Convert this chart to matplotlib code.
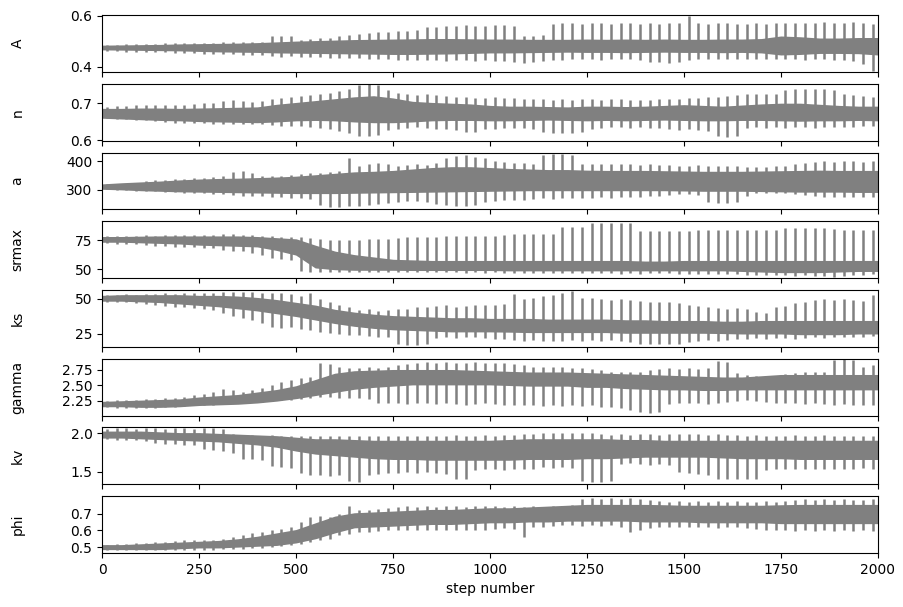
import numpy as np
import matplotlib
matplotlib.use("Agg")
import matplotlib.pyplot as plt

labels = ["A", "n", "a", "srmax", "ks", "gamma", "kv", "phi"]

# band of the walkers, read every 50 steps (0..2000)
knot_steps = np.arange(0, 2001, 50)
# spikes of the stray walkers, read every 25 steps
spike_steps = np.arange(12, 2000, 25)

A_lo = [0.470, 0.469, 0.468, 0.467, 0.466, 0.464, 0.462, 0.461, 0.460, 0.458,
        0.457, 0.456, 0.455, 0.454, 0.453, 0.452, 0.452, 0.453, 0.454, 0.456,
        0.458, 0.458, 0.459, 0.460, 0.461, 0.460, 0.460, 0.459, 0.460, 0.461,
        0.460, 0.460, 0.459, 0.460, 0.458, 0.450, 0.452, 0.456, 0.456, 0.455, 0.450]
A_hi = [0.482, 0.483, 0.484, 0.485, 0.487, 0.488, 0.489, 0.490, 0.492, 0.495,
        0.498, 0.500, 0.502, 0.504, 0.505, 0.506, 0.507, 0.508, 0.508, 0.507,
        0.506, 0.506, 0.505, 0.505, 0.505, 0.506, 0.505, 0.506, 0.505, 0.506,
        0.505, 0.505, 0.506, 0.506, 0.508, 0.518, 0.515, 0.510, 0.510, 0.512, 0.512]
A_top = [0.486, 0.487, 0.488, 0.489, 0.490, 0.491, 0.492, 0.492, 0.493, 0.494,
         0.494, 0.495, 0.496, 0.497, 0.498, 0.497, 0.498, 0.520, 0.522, 0.521,
         0.505, 0.508, 0.512, 0.515, 0.520, 0.525, 0.530, 0.532, 0.535, 0.538,
         0.540, 0.541, 0.545, 0.555, 0.558, 0.560, 0.562, 0.563, 0.560, 0.562,
         0.564, 0.563, 0.560, 0.522, 0.520, 0.525, 0.570, 0.571, 0.572, 0.570,
         0.571, 0.572, 0.570, 0.571, 0.572, 0.570, 0.571, 0.569, 0.572, 0.571,
         0.600, 0.571, 0.570, 0.572, 0.571, 0.569, 0.570, 0.571, 0.570, 0.572,
         0.571, 0.573, 0.574, 0.572, 0.575, 0.574, 0.573, 0.575, 0.572, 0.570]
A_bot = [0.462, 0.461, 0.460, 0.459, 0.458, 0.458, 0.457, 0.456, 0.455, 0.455,
         0.452, 0.451, 0.450, 0.449, 0.447, 0.446, 0.445, 0.442, 0.440, 0.441,
         0.440, 0.438, 0.437, 0.436, 0.435, 0.434, 0.433, 0.432, 0.431, 0.430,
         0.428, 0.427, 0.426, 0.428, 0.426, 0.425, 0.427, 0.426, 0.425, 0.427,
         0.424, 0.422, 0.418, 0.416, 0.418, 0.424, 0.426, 0.428, 0.430, 0.429,
         0.430, 0.428, 0.431, 0.429, 0.430, 0.428, 0.420, 0.418, 0.417, 0.418,
         0.428, 0.431, 0.429, 0.430, 0.432, 0.431, 0.430, 0.429, 0.431, 0.430,
         0.432, 0.430, 0.428, 0.429, 0.430, 0.428, 0.427, 0.425, 0.410, 0.385]

n_lo = [0.662, 0.660, 0.658, 0.656, 0.655, 0.653, 0.652, 0.651, 0.650, 0.652,
        0.655, 0.656, 0.655, 0.652, 0.650, 0.650, 0.652, 0.655, 0.656, 0.656,
        0.655, 0.655, 0.656, 0.657, 0.656, 0.655, 0.656, 0.655, 0.656, 0.657,
        0.656, 0.655, 0.655, 0.656, 0.656, 0.655, 0.654, 0.655, 0.655, 0.656, 0.655]
n_hi = [0.684, 0.684, 0.685, 0.685, 0.684, 0.685, 0.686, 0.687, 0.688, 0.695,
        0.700, 0.705, 0.710, 0.715, 0.718, 0.712, 0.703, 0.700, 0.698, 0.696,
        0.692, 0.690, 0.690, 0.689, 0.688, 0.690, 0.690, 0.689, 0.690, 0.692,
        0.694, 0.692, 0.690, 0.693, 0.696, 0.698, 0.698, 0.695, 0.692, 0.690, 0.690]
n_top = [0.690, 0.692, 0.693, 0.694, 0.695, 0.694, 0.695, 0.696, 0.695, 0.697,
         0.700, 0.702, 0.705, 0.708, 0.705, 0.703, 0.706, 0.712, 0.715, 0.718,
         0.720, 0.722, 0.725, 0.728, 0.732, 0.738, 0.748, 0.752, 0.750, 0.735,
         0.728, 0.725, 0.722, 0.724, 0.722, 0.720, 0.718, 0.716, 0.714, 0.715,
         0.716, 0.715, 0.714, 0.712, 0.711, 0.712, 0.710, 0.711, 0.710, 0.712,
         0.711, 0.710, 0.712, 0.711, 0.710, 0.709, 0.710, 0.711, 0.712, 0.712,
         0.713, 0.715, 0.716, 0.718, 0.720, 0.722, 0.724, 0.725, 0.726, 0.724,
         0.735, 0.737, 0.738, 0.738, 0.737, 0.736, 0.725, 0.722, 0.720, 0.718]
n_bot = [0.660, 0.658, 0.657, 0.655, 0.654, 0.652, 0.650, 0.648, 0.648, 0.647,
         0.646, 0.645, 0.644, 0.645, 0.644, 0.645, 0.643, 0.642, 0.640, 0.639,
         0.638, 0.636, 0.634, 0.630, 0.625, 0.620, 0.613, 0.612, 0.615, 0.628,
         0.632, 0.634, 0.635, 0.633, 0.632, 0.630, 0.628, 0.624, 0.622, 0.630,
         0.632, 0.634, 0.633, 0.634, 0.630, 0.622, 0.620, 0.621, 0.620, 0.623,
         0.630, 0.634, 0.636, 0.635, 0.634, 0.636, 0.634, 0.633, 0.630, 0.628,
         0.630, 0.628, 0.625, 0.612, 0.610, 0.612, 0.633, 0.635, 0.634, 0.635,
         0.634, 0.635, 0.636, 0.634, 0.635, 0.636, 0.635, 0.637, 0.638, 0.640]

a_lo = [305, 303, 300, 298, 296, 295, 294, 293, 292, 291,
        290, 290, 290, 291, 292, 293, 294, 295, 296, 297,
        298, 299, 300, 300, 300, 300, 300, 300, 300, 300,
        299, 298, 298, 298, 297, 296, 295, 295, 295, 294, 294]
a_hi = [318, 322, 325, 328, 332, 335, 337, 338, 340, 342,
        345, 350, 355, 360, 362, 365, 370, 375, 378, 378,
        375, 372, 370, 368, 368, 366, 365, 365, 365, 364,
        363, 362, 362, 362, 363, 364, 365, 366, 365, 365, 365]
a_top = [320, 321, 322, 325, 330, 333, 335, 337, 338, 340,
         342, 345, 350, 362, 365, 360, 350, 348, 350, 352,
         355, 358, 360, 362, 365, 410, 385, 392, 395, 390,
         385, 388, 390, 386, 395, 412, 418, 420, 415, 410,
         400, 398, 395, 394, 392, 422, 425, 424, 420, 392,
         390, 391, 389, 390, 392, 388, 390, 387, 386, 385,
         385, 386, 384, 385, 383, 382, 380, 381, 380, 382,
         385, 392, 395, 398, 400, 398, 399, 400, 396, 400]
a_bot = [302, 300, 298, 297, 296, 295, 293, 292, 290, 290,
         288, 286, 284, 282, 280, 278, 277, 276, 275, 272,
         270, 268, 248, 242, 240, 243, 245, 246, 250, 255,
         258, 260, 262, 258, 250, 246, 244, 245, 247, 258,
         262, 265, 266, 265, 268, 270, 268, 270, 272, 271,
         272, 274, 273, 275, 274, 276, 278, 280, 282, 284,
         285, 283, 258, 255, 256, 257, 280, 288, 290, 289,
         290, 286, 282, 278, 276, 275, 274, 276, 275, 276]

srmax_lo = [74.0, 74.0, 73.5, 73.0, 72.5, 71.5, 71.0, 70.5, 70.0, 67.0,
            63.0, 52.0, 50.5, 50.0, 50.0, 50.0, 49.8, 49.8, 49.8, 49.8,
            49.8, 49.5, 49.5, 49.5, 49.5, 49.5, 49.5, 49.5, 49.5, 49.5,
            49.5, 49.5, 49.5, 49.0, 48.5, 48.0, 48.0, 48.0, 48.5, 49.0, 49.0]
srmax_hi = [77.5, 77.5, 77.8, 78.0, 78.0, 78.0, 78.0, 78.0, 77.5, 76.5,
            75.5, 70.0, 65.0, 62.0, 60.0, 58.0, 57.5, 57.0, 57.0, 57.0,
            57.0, 57.0, 57.0, 57.0, 57.0, 57.0, 57.0, 57.0, 56.5, 56.5,
            57.0, 57.0, 57.0, 57.0, 57.0, 57.0, 57.0, 57.0, 57.0, 57.0, 57.0]
srmax_top = [78.5, 78.8, 79.0, 79.0, 79.2, 79.0, 79.2, 79.5, 79.3, 79.4,
             79.5, 79.8, 80.0, 80.0, 79.8, 79.5, 79.0, 78.5, 78.0, 77.5,
             77.5, 77.0, 76.0, 75.5, 75.0, 75.5, 75.5, 75.8, 76.0, 76.5,
             77.0, 77.5, 77.8, 78.0, 78.2, 78.5, 78.5, 78.6, 78.8, 79.0,
             79.0, 79.5, 80.0, 80.0, 80.0, 80.0, 80.0, 86.0, 86.4, 86.2,
             89.5, 89.8, 90.0, 89.6, 89.8, 82.5, 82.7, 82.8, 83.0, 83.2,
             83.0, 83.5, 83.8, 84.0, 83.5, 83.8, 84.0, 83.6, 84.0, 83.8,
             85.5, 85.8, 85.6, 85.5, 85.8, 84.5, 84.0, 84.2, 83.8, 84.0]
srmax_bot = [72.5, 72.0, 72.0, 71.5, 71.0, 70.5, 70.0, 69.5, 69.0, 69.5,
             68.5, 68.0, 67.0, 66.0, 65.5, 64.0, 62.0, 60.0, 59.0, 58.5,
             48.5, 48.0, 47.8, 47.5, 47.5, 47.8, 48.0, 47.5, 47.8, 47.5,
             47.5, 47.8, 47.5, 47.6, 47.5, 47.8, 47.5, 47.2, 47.5, 47.3,
             47.5, 47.3, 47.0, 47.2, 47.0, 47.3, 47.0, 47.2, 47.0, 46.8,
             47.0, 46.8, 47.0, 46.5, 46.8, 46.5, 46.8, 47.0, 46.8, 46.5,
             46.5, 46.0, 46.2, 46.5, 46.0, 45.8, 45.5, 45.5, 45.0, 45.2,
             45.0, 44.8, 45.0, 44.5, 44.0, 43.8, 44.5, 45.0, 45.5, 46.0]

ks_lo = [49.0, 49.0, 48.5, 48.0, 47.0, 46.0, 45.0, 43.5, 42.0, 40.0,
         38.0, 35.5, 33.0, 31.0, 29.5, 28.5, 28.0, 27.5, 27.0, 27.0,
         27.0, 26.8, 26.5, 26.5, 26.5, 26.5, 26.5, 26.0, 26.0, 26.0,
         26.0, 26.0, 25.8, 25.5, 25.5, 25.5, 25.0, 25.0, 25.0, 25.5, 25.5]
ks_hi = [52.0, 52.5, 52.5, 52.5, 52.5, 52.0, 52.0, 51.5, 50.5, 49.0,
         47.0, 45.0, 42.0, 40.0, 38.5, 37.5, 37.0, 36.5, 36.0, 36.0,
         35.5, 35.5, 35.5, 35.0, 35.0, 35.0, 35.0, 34.5, 34.5, 34.0,
         34.0, 34.0, 33.5, 33.5, 34.0, 34.0, 34.0, 34.0, 34.0, 34.0, 34.0]
ks_top = [53.0, 53.2, 53.5, 53.0, 53.5, 53.8, 54.0, 53.5, 54.0, 54.2,
          54.5, 54.0, 55.0, 55.2, 54.8, 55.0, 54.5, 54.0, 54.5, 53.5,
          52.0, 54.0, 50.0, 48.0, 46.0, 44.0, 42.0, 42.5, 41.5, 42.0,
          42.5, 43.0, 44.0, 44.5, 45.0, 45.5, 44.0, 45.0, 45.5, 46.0,
          46.0, 46.5, 53.3, 50.0, 51.0, 52.0, 53.0, 54.0, 55.5, 51.0,
          50.5, 50.0, 49.5, 50.0, 49.0, 48.5, 48.0, 47.5, 48.0, 47.0,
          46.0, 45.0, 44.0, 43.5, 43.0, 43.5, 42.5, 41.0, 40.0, 44.0,
          45.0, 47.0, 48.0, 49.0, 50.0, 49.5, 50.0, 49.0, 48.5, 52.5]
ks_bot = [48.0, 47.8, 47.5, 47.0, 46.5, 46.0, 45.0, 44.5, 44.0, 43.5,
          43.0, 42.0, 40.0, 38.0, 36.5, 35.0, 33.0, 30.0, 29.5, 30.0,
          28.5, 27.5, 26.5, 25.5, 25.0, 24.5, 24.0, 23.5, 23.0, 22.5,
          18.0, 17.2, 17.0, 17.5, 22.0, 22.5, 22.0, 22.5, 23.0, 22.0,
          21.5, 21.0, 20.5, 20.0, 20.5, 20.0, 20.2, 20.0, 20.5, 20.0,
          20.5, 20.0, 20.5, 20.0, 19.5, 17.8, 17.5, 17.6, 17.8, 18.0,
          19.5, 20.0, 20.5, 20.0, 20.5, 21.0, 21.5, 22.0, 21.5, 22.0,
          22.0, 21.5, 22.0, 22.5, 22.0, 22.5, 23.0, 22.5, 23.0, 23.5]

gamma_lo = [2.17, 2.17, 2.16, 2.16, 2.17, 2.19, 2.20, 2.21, 2.23, 2.26,
            2.30, 2.35, 2.40, 2.45, 2.48, 2.50, 2.52, 2.52, 2.52, 2.52,
            2.52, 2.51, 2.50, 2.50, 2.50, 2.48, 2.48, 2.46, 2.45, 2.44,
            2.44, 2.43, 2.43, 2.44, 2.44, 2.44, 2.44, 2.44, 2.44, 2.44, 2.44]
gamma_hi = [2.23, 2.24, 2.25, 2.26, 2.27, 2.30, 2.32, 2.34, 2.38, 2.42,
            2.48, 2.58, 2.68, 2.72, 2.73, 2.74, 2.74, 2.74, 2.74, 2.73,
            2.72, 2.71, 2.70, 2.70, 2.70, 2.69, 2.68, 2.67, 2.66, 2.65,
            2.64, 2.63, 2.62, 2.62, 2.64, 2.66, 2.66, 2.66, 2.66, 2.66, 2.66]
gamma_top = [2.25, 2.26, 2.26, 2.27, 2.28, 2.28, 2.29, 2.30, 2.32, 2.34,
             2.36, 2.40, 2.44, 2.42, 2.40, 2.42, 2.45, 2.50, 2.55, 2.58,
             2.62, 2.63, 2.85, 2.84, 2.80, 2.78, 2.78, 2.79, 2.78, 2.80,
             2.82, 2.84, 2.86, 2.87, 2.86, 2.87, 2.86, 2.86, 2.87, 2.85,
             2.86, 2.85, 2.84, 2.82, 2.80, 2.79, 2.80, 2.79, 2.78, 2.78,
             2.76, 2.74, 2.72, 2.72, 2.71, 2.72, 2.74, 2.76, 2.77, 2.76,
             2.77, 2.76, 2.77, 2.89, 2.88, 2.70, 2.66, 2.65, 2.64, 2.65,
             2.68, 2.70, 2.72, 2.71, 2.72, 2.91, 2.92, 2.90, 2.80, 2.82]
gamma_bot = [2.15, 2.14, 2.13, 2.13, 2.14, 2.14, 2.15, 2.16, 2.17, 2.18,
             2.18, 2.19, 2.20, 2.21, 2.22, 2.23, 2.24, 2.25, 2.26, 2.27,
             2.28, 2.30, 2.31, 2.32, 2.30, 2.29, 2.29, 2.28, 2.22, 2.21,
             2.21, 2.20, 2.22, 2.21, 2.20, 2.21, 2.20, 2.19, 2.20, 2.21,
             2.20, 2.19, 2.18, 2.19, 2.18, 2.17, 2.18, 2.17, 2.18, 2.17,
             2.18, 2.16, 2.15, 2.14, 2.10, 2.07, 2.06, 2.08, 2.20, 2.21,
             2.22, 2.21, 2.20, 2.22, 2.23, 2.25, 2.26, 2.25, 2.24, 2.22,
             2.22, 2.21, 2.20, 2.21, 2.20, 2.19, 2.20, 2.19, 2.18, 2.18]

kv_lo = [1.95, 1.95, 1.94, 1.93, 1.92, 1.91, 1.90, 1.88, 1.86, 1.83,
         1.78, 1.74, 1.72, 1.70, 1.68, 1.67, 1.67, 1.66, 1.66, 1.66,
         1.66, 1.66, 1.67, 1.67, 1.67, 1.68, 1.68, 1.69, 1.70, 1.70,
         1.70, 1.70, 1.69, 1.68, 1.68, 1.68, 1.67, 1.67, 1.67, 1.67, 1.67]
kv_hi = [2.02, 2.02, 2.02, 2.01, 2.00, 2.00, 1.99, 1.98, 1.97, 1.96,
         1.94, 1.92, 1.92, 1.91, 1.90, 1.90, 1.90, 1.90, 1.90, 1.90,
         1.90, 1.91, 1.92, 1.92, 1.92, 1.92, 1.92, 1.91, 1.91, 1.90,
         1.90, 1.90, 1.90, 1.90, 1.90, 1.90, 1.90, 1.90, 1.90, 1.90, 1.90]
kv_top = [2.06, 2.07, 2.07, 2.06, 2.07, 2.07, 2.06, 2.07, 2.07, 2.06,
          2.07, 2.07, 2.06, 1.99, 1.98, 1.98, 1.97, 1.98, 1.97, 1.97,
          1.96, 1.97, 1.96, 1.97, 1.96, 1.97, 1.97, 1.96, 1.97, 1.97,
          1.96, 1.97, 1.97, 1.96, 1.97, 1.97, 1.98, 1.97, 1.97, 1.98,
          1.97, 1.98, 1.98, 1.99, 1.99, 2.00, 2.01, 2.00, 2.00, 2.00,
          2.00, 1.99, 1.98, 1.99, 1.98, 1.99, 1.99, 1.98, 1.99, 1.99,
          1.99, 1.99, 1.98, 1.99, 1.98, 1.98, 1.97, 1.98, 1.97, 1.97,
          1.97, 1.98, 1.97, 1.97, 1.98, 1.97, 1.97, 1.96, 1.97, 1.96]
kv_bot = [1.93, 1.92, 1.92, 1.91, 1.90, 1.87, 1.86, 1.86, 1.85, 1.85,
          1.80, 1.78, 1.77, 1.75, 1.67, 1.66, 1.65, 1.57, 1.56, 1.55,
          1.48, 1.46, 1.45, 1.44, 1.45, 1.38, 1.37, 1.45, 1.47, 1.48,
          1.48, 1.49, 1.48, 1.49, 1.48, 1.47, 1.41, 1.40, 1.52, 1.53,
          1.53, 1.52, 1.53, 1.54, 1.53, 1.56, 1.55, 1.56, 1.55, 1.38,
          1.37, 1.37, 1.38, 1.60, 1.61, 1.60, 1.59, 1.60, 1.59, 1.50,
          1.48, 1.47, 1.46, 1.41, 1.40, 1.40, 1.41, 1.40, 1.52, 1.53,
          1.53, 1.54, 1.53, 1.54, 1.53, 1.54, 1.53, 1.54, 1.55, 1.53]

phi_lo = [0.490, 0.490, 0.490, 0.490, 0.495, 0.500, 0.500, 0.505, 0.510, 0.515,
          0.530, 0.555, 0.590, 0.620, 0.625, 0.630, 0.635, 0.640, 0.640, 0.645,
          0.650, 0.650, 0.655, 0.655, 0.660, 0.660, 0.660, 0.660, 0.655, 0.655,
          0.655, 0.650, 0.650, 0.650, 0.650, 0.645, 0.645, 0.645, 0.645, 0.645, 0.645]
phi_hi = [0.510, 0.510, 0.515, 0.520, 0.525, 0.530, 0.535, 0.545, 0.560, 0.580,
          0.600, 0.640, 0.680, 0.700, 0.705, 0.710, 0.715, 0.720, 0.720, 0.725,
          0.730, 0.730, 0.735, 0.740, 0.745, 0.750, 0.750, 0.750, 0.750, 0.748,
          0.745, 0.745, 0.745, 0.745, 0.745, 0.748, 0.750, 0.750, 0.750, 0.750, 0.750]
phi_top = [0.515, 0.518, 0.520, 0.522, 0.525, 0.528, 0.530, 0.535, 0.540, 0.542,
           0.545, 0.545, 0.548, 0.560, 0.575, 0.585, 0.590, 0.600, 0.610, 0.620,
           0.650, 0.680, 0.686, 0.680, 0.700, 0.745, 0.720, 0.720, 0.730, 0.735,
           0.740, 0.745, 0.740, 0.745, 0.740, 0.745, 0.745, 0.740, 0.745, 0.745,
           0.745, 0.740, 0.745, 0.740, 0.745, 0.740, 0.745, 0.745, 0.750, 0.790,
           0.795, 0.790, 0.795, 0.790, 0.795, 0.790, 0.780, 0.775, 0.770, 0.775,
           0.770, 0.775, 0.770, 0.775, 0.770, 0.775, 0.770, 0.770, 0.775, 0.770,
           0.775, 0.780, 0.785, 0.780, 0.785, 0.780, 0.785, 0.780, 0.780, 0.790]
phi_bot = [0.485, 0.484, 0.483, 0.482, 0.482, 0.481, 0.482, 0.483, 0.482, 0.483,
           0.482, 0.484, 0.486, 0.488, 0.490, 0.492, 0.495, 0.500, 0.505, 0.510,
           0.520, 0.530, 0.540, 0.550, 0.570, 0.580, 0.590, 0.590, 0.595, 0.600,
           0.600, 0.600, 0.605, 0.600, 0.605, 0.600, 0.605, 0.600, 0.605, 0.605,
           0.610, 0.612, 0.610, 0.560, 0.620, 0.620, 0.625, 0.630, 0.630, 0.625,
           0.630, 0.625, 0.630, 0.620, 0.590, 0.600, 0.615, 0.620, 0.620, 0.620,
           0.620, 0.618, 0.620, 0.615, 0.620, 0.618, 0.615, 0.610, 0.605, 0.600,
           0.600, 0.598, 0.600, 0.598, 0.600, 0.598, 0.600, 0.598, 0.600, 0.598]

bands = [(A_lo, A_hi), (n_lo, n_hi), (a_lo, a_hi), (srmax_lo, srmax_hi),
         (ks_lo, ks_hi), (gamma_lo, gamma_hi), (kv_lo, kv_hi), (phi_lo, phi_hi)]
spikes = [(A_bot, A_top), (n_bot, n_top), (a_bot, a_top), (srmax_bot, srmax_top),
          (ks_bot, ks_top), (gamma_bot, gamma_top), (kv_bot, kv_top), (phi_bot, phi_top)]

ylims = [(0.38, 0.603), (0.5995, 0.752), (232, 430), (42.6, 91.2),
         (15.7, 56.4), (2.016, 2.925), (1.335, 2.078), (0.465, 0.804)]
yticks = [[0.4, 0.6], [0.6, 0.7], [300, 400], [50, 75],
          [25, 50], [2.25, 2.5, 2.75], [1.5, 2.0], [0.5, 0.6, 0.7]]

fig, axes = plt.subplots(8, figsize=(9.04, 6.07), dpi=100, sharex=True)
fig.subplots_adjust(left=0.113, right=0.971, top=0.975, bottom=0.089, hspace=0.21)

for i, ax in enumerate(axes):
    lo, hi = bands[i]
    bot, top = spikes[i]
    ax.fill_between(knot_steps, lo, hi, color="gray", lw=1.2)
    ax.vlines(spike_steps, bot, top, color="gray", lw=1.8)
    ax.set_xlim(0, 2000)
    ax.set_ylim(ylims[i])
    ax.set_yticks(yticks[i])
    ax.set_ylabel(labels[i])
    ax.yaxis.set_label_coords(-0.1, 0.5)

axes[-1].set_xlabel("step number")
axes[-1].set_xticks(np.arange(0, 2001, 250))

fig.savefig("out.png", dpi=100)
